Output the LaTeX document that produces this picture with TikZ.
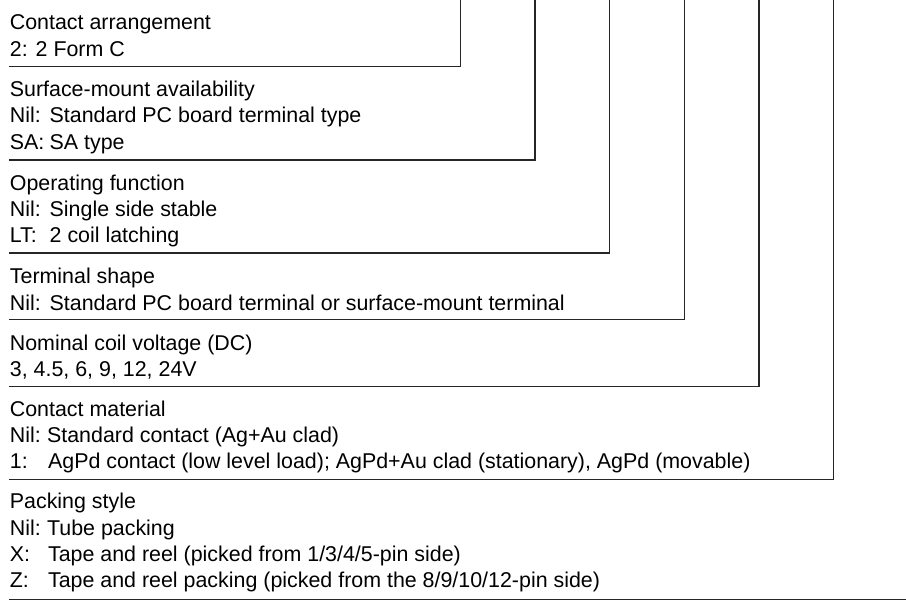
\documentclass[tikz,border=0pt]{standalone}
\usepackage{fontspec}
\setmainfont{Liberation Sans}

\begin{document}
\begin{tikzpicture}[x=0.5pt,y=-0.5pt,
    txt/.style={anchor=base west,inner sep=0pt,font=\fontsize{10.7}{13}\selectfont},
    leader/.style={line width=0.6pt,black!85}]
    \useasboundingbox (0,0) rectangle (906,601);

    % contact arrangement
    \node[txt] (arr) at (9.5,29.3) {Contact arrangement};
    \node[txt] (arr2) at (9.5,56) {2: 2 Form C};
    \coordinate (top1) at (460.3,0);
    \coordinate (end1) at (9.3,66.3);
    \draw[leader] (top1) |- (end1);

    % surface-mount availability
    \node[txt] (smd) at (9.5,96.7) {Surface-mount availability};
    \node[txt] (smdnil) at (9.5,122.7) {Nil:};
    \node[txt] (smdnilx) at (49.3,122.7) {Standard PC board terminal type};
    \node[txt] (smdsa) at (9.5,149.3) {SA:};
    \node[txt] (smdsax) at (49.3,149.3) {SA type};
    \coordinate (top2) at (535,0);
    \coordinate (end2) at (9.3,160);
    \draw[leader] (top2) |- (end2);

    % operating function
    \node[txt] (opf) at (9.5,190) {Operating function};
    \node[txt] (opfnil) at (9.5,216.7) {Nil:};
    \node[txt] (opfnilx) at (49.3,216.7) {Single side stable};
    \node[txt] (opflt) at (9.5,242.7) {LT:};
    \node[txt] (opfltx) at (49.3,242.7) {2 coil latching};
    \coordinate (top3) at (609.7,0);
    \coordinate (end3) at (9.3,253);
    \draw[leader] (top3) |- (end3);

    % terminal shape
    \node[txt] (term) at (9.5,283.3) {Terminal shape};
    \node[txt] (termnil) at (9.5,310) {Nil:};
    \node[txt] (termnilx) at (49.3,310) {Standard PC board terminal or surface-mount terminal};
    \coordinate (top4) at (684.3,0);
    \coordinate (end4) at (9.3,319.5);
    \draw[leader] (top4) |- (end4);

    % coil voltage
    \node[txt] (coil) at (9.5,350) {Nominal coil voltage (DC)};
    \node[txt] (coil2) at (9.5,376) {3, 4.5, 6, 9, 12, 24V};
    \coordinate (top5) at (759,0);
    \coordinate (end5) at (9.3,386.3);
    \draw[leader] (top5) |- (end5);

    % contact material
    \node[txt] (mat) at (9.5,416) {Contact material};
    \node[txt] (matnil) at (9.5,442.7) {Nil:};
    \node[txt] (matnilx) at (46.7,442.7) {Standard contact (Ag+Au clad)};
    \node[txt] (matone) at (9.5,468.3) {1:};
    \node[txt] (matonex) at (47.7,468.3) {AgPd contact (low level load); AgPd+Au clad (stationary), AgPd (movable)};
    \coordinate (top6) at (833.5,0);
    \coordinate (end6) at (9.3,479.5);
    \draw[leader] (top6) |- (end6);

    % packing style
    \node[txt] (pack) at (9.5,508) {Packing style};
    \node[txt] (packnil) at (9.5,535) {Nil:};
    \node[txt] (packnilx) at (46.7,535) {Tube packing};
    \node[txt] (packx) at (9.5,561.7) {X:};
    \node[txt] (packxx) at (47.7,561.7) {Tape and reel (picked from 1/3/4/5-pin side)};
    \node[txt] (packz) at (9.5,587.3) {Z:};
    \node[txt] (packzx) at (47.7,587.3) {Tape and reel packing (picked from the 8/9/10/12-pin side)};
    \coordinate (beg7) at (9.3,599.3);
    \coordinate (end7) at (906,599.3);
    \draw[leader] (beg7) -- (end7);
\end{tikzpicture}
\end{document}
